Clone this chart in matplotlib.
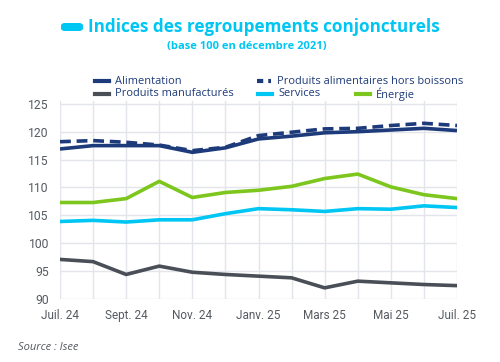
import matplotlib
matplotlib.use("Agg")
import matplotlib.pyplot as plt
from matplotlib.lines import Line2D
from matplotlib.patches import FancyBboxPatch

months = ["Juil. 24", "Août 24", "Sept. 24", "Oct. 24", "Nov. 24", "Déc. 24", "Janv. 25",
          "Févr. 25", "Mars 25", "Avr. 25", "Mai 25", "Juin 25", "Juil. 25"]
tick_labels = ["Juil. 24", "Sept. 24", "Nov. 24", "Janv. 25", "Mars 25", "Mai 25", "Juil. 25"]
alimentation = [116.9, 117.5, 117.5, 117.5, 116.3, 117.1, 118.7, 119.2, 119.8, 120.0, 120.3, 120.6, 120.2]
produits_alim = [118.2, 118.4, 118.1, 117.6, 116.6, 117.2, 119.3, 119.9, 120.5, 120.6, 121.1, 121.5, 121.1]
manufactures = [97.1, 96.7, 94.4, 95.9, 94.8, 94.4, 94.1, 93.8, 92.0, 93.2, 92.9, 92.6, 92.4]
services = [103.9, 104.1, 103.8, 104.2, 104.2, 105.3, 106.2, 106.0, 105.7, 106.2, 106.1, 106.7, 106.4]
energie = [107.3, 107.3, 108.0, 111.1, 108.2, 109.1, 109.5, 110.2, 111.6, 112.4, 110.1, 108.7, 108.0]
yticks = [90, 95, 100, 105, 110, 115, 120, 125]

NAVY = "#1d3a7a"
GREY = "#4a4f57"
CYAN = "#00c6f4"
GREEN = "#7cc61d"
TXT = "#555a60"
HFONT = "Open Sans"
TFONT = "Roboto"

fig = plt.figure(figsize=(5, 3.62), dpi=100)
ax = fig.add_axes([0.12, 0.174, 0.794, 0.547])
x = list(range(len(months)))
lw = 2.6
ax.plot(x, alimentation, color=NAVY, lw=lw, solid_capstyle="butt")
ax.plot(x, produits_alim, color=NAVY, lw=lw, ls=(0, (3, 1.6)))
ax.plot(x, manufactures, color=GREY, lw=lw)
ax.plot(x, services, color=CYAN, lw=lw)
ax.plot(x, energie, color=GREEN, lw=lw)

ax.set_xlim(0, len(months) - 1)
ax.set_ylim(90, 125.5)
ax.set_yticks(yticks)
ax.set_yticklabels([str(v) for v in yticks], fontsize=8.7, color=TXT, family=TFONT)
ax.set_xticks(x, minor=True)
ax.set_xticks([months.index(t) for t in tick_labels])
ax.set_xticklabels(tick_labels, fontsize=8.5, color=TXT, family=TFONT)
ax.grid(True, which="both", color="#e2e5e9", lw=1)
ax.set_axisbelow(True)
ax.tick_params(length=0, pad=7, which="both")
ax.tick_params(axis="y", pad=8)
for s in ax.spines.values():
    s.set_visible(False)

# Title with pill
pill = FancyBboxPatch((61 / 500, 1 - 31 / 362), 22 / 500, 8 / 362,
                      boxstyle="round,pad=0,rounding_size=0.008", transform=fig.transFigure,
                      color=CYAN, lw=0)
fig.patches.append(pill)
fig.text(88 / 500, 1 - 27 / 362, "Indices des regroupements conjoncturels", color=CYAN,
         fontsize=12.3, fontweight="bold", family=HFONT, va="center", ha="left")
fig.text(247 / 500, 1 - 47 / 362, "(base 100 en décembre 2021)", color=CYAN,
         fontsize=8, fontweight="bold", family=HFONT, va="center", ha="center")

# Legend (manual layout)
legend_items = [
    ("Alimentation", NAVY, "-", 95, 81),
    ("Produits alimentaires hors boissons", NAVY, (0, (1.5, 1.2)), 257, 81),
    ("Produits manufacturés", GREY, "-", 95, 94),
    ("Services", CYAN, "-", 258, 94),
    ("Énergie", GREEN, "-", 356, 94),
]
for label, col, ls, xh, yh in legend_items:
    yf = 1 - yh / 362
    fig.add_artist(Line2D([xh / 500, (xh + 14) / 500], [yf, yf], color=col, lw=3,
                          ls=ls, transform=fig.transFigure))
    fig.text((xh + 20) / 500, yf, label, color=NAVY, fontsize=7.9, family=HFONT,
             va="center", ha="left")

fig.text(18 / 500, 1 - 347 / 362, "Source : Isee", color=TXT, fontsize=8,
         style="italic", family=HFONT, va="center", ha="left")

fig.savefig("out.png", dpi=100)
